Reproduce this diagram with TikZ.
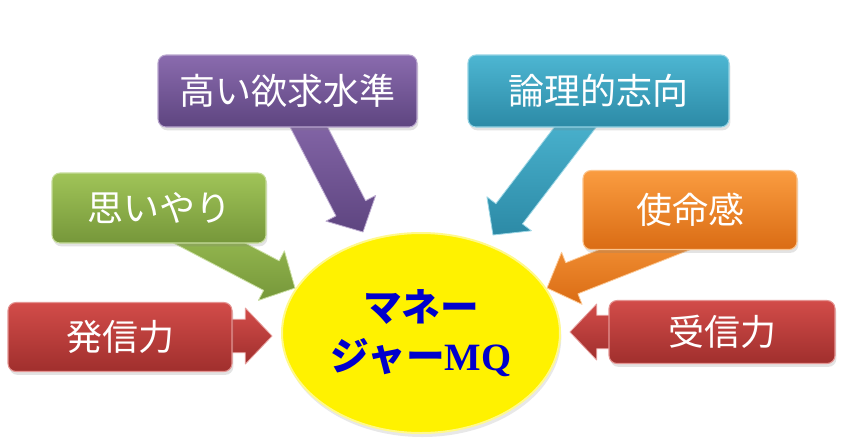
\documentclass[tikz,border=0pt]{standalone}
\usepackage{fontspec}
\newfontfamily\jp{Noto Sans CJK JP}
\newfontfamily\tnr{Liberation Serif}
\usetikzlibrary{calc,shadows,shapes.geometric}
\definecolor{purT}{HTML}{8A6BAE}
\definecolor{purB}{HTML}{5E4580}
\definecolor{tealT}{HTML}{4DB6D2}
\definecolor{tealB}{HTML}{2C8AA6}
\definecolor{grnT}{HTML}{A0C458}
\definecolor{grnB}{HTML}{76973A}
\definecolor{orgT}{HTML}{FA9C40}
\definecolor{orgB}{HTML}{DA6C14}
\definecolor{redT}{HTML}{D24C49}
\definecolor{redB}{HTML}{A02F2D}
\definecolor{mqblue}{HTML}{0000CC}
\newcommand\blockarrow[3]{%
  \coordinate (ah) at ($(#2)!20pt!(#1)$);
  \path[#3] ($(#1)!12.5pt!90:(#2)$) -- ($(ah)!12.5pt!90:(#2)$) -- ($(ah)!21pt!90:(#2)$)
    -- (#2) -- ($(ah)!21pt!-90:(#2)$) -- ($(ah)!12.5pt!-90:(#2)$) -- ($(#1)!12.5pt!-90:(#2)$) -- cycle;}
\tikzset{
  box/.style 2 args={rounded corners=6pt, top color=#1, bottom color=#2, draw=#1!60!white,
    line width=0.8pt, text=white, font=\jp\fontsize{27}{32}\selectfont,
    drop shadow={opacity=0.22, shadow xshift=1pt, shadow yshift=-2.5pt}},
  arr/.style 2 args={top color=#1, bottom color=#2, draw=#1!55!white, line width=0.6pt, line join=round},
  ellip/.style={ellipse, fill=yellow, draw=yellow!45!white, line width=1.5pt,
    drop shadow={opacity=0.18, shadow xshift=1pt, shadow yshift=-3pt},
    text=mqblue, align=center, font=\jp\bfseries\fontsize{29}{37}\selectfont}
}
\begin{document}
\begin{tikzpicture}[x=0.75pt, y=-0.75pt]
\path[use as bounding box, fill=white] (0,0) rectangle (843,444);
% arrow coordinates
\coordinate (ps) at (299,108);  \coordinate (pt) at (363,232);
\coordinate (ts) at (583,117);  \coordinate (tt) at (493,235);
\coordinate (gs) at (175,225);  \coordinate (gt) at (295,288);
\coordinate (os) at (687,233);  \coordinate (ot) at (547,288);
\coordinate (rs) at (215,336);  \coordinate (rt) at (272,336);
\coordinate (qs) at (625,332);  \coordinate (qt) at (570,332);
\blockarrow{ps}{pt}{arr={purT}{purB}}
\blockarrow{ts}{tt}{arr={tealT}{tealB}}
\blockarrow{gs}{gt}{arr={grnT}{grnB}}
\blockarrow{os}{ot}{arr={orgT}{orgB}}
\blockarrow{rs}{rt}{arr={redT}{redB}}
\blockarrow{qs}{qt}{arr={redT}{redB}}
% boxes
\node[box={purT}{purB}, minimum width=259*0.75pt, minimum height=72*0.75pt] (p) at (287.5,91) {高い欲求水準};
\node[box={tealT}{tealB}, minimum width=261*0.75pt, minimum height=72*0.75pt] (t) at (598.5,91) {論理的志向};
\node[box={grnT}{grnB}, minimum width=214*0.75pt, minimum height=70*0.75pt] (g) at (159,208) {思いやり};
\node[box={orgT}{orgB}, minimum width=214*0.75pt, minimum height=79*0.75pt] (o) at (690,210) {使命感};
\node[box={redT}{redB}, minimum width=224*0.75pt, minimum height=69*0.75pt] (r) at (120,337) {発信力};
\node[box={redT}{redB}, minimum width=226*0.75pt, minimum height=63*0.75pt] (q) at (722,332) {受信力};
% ellipse
\node[ellip, minimum width=278*0.75pt, minimum height=200*0.75pt] (mq) at (421,333)
  {マネー\\ジャー{\tnr\bfseries MQ}};
\end{tikzpicture}
\end{document}
